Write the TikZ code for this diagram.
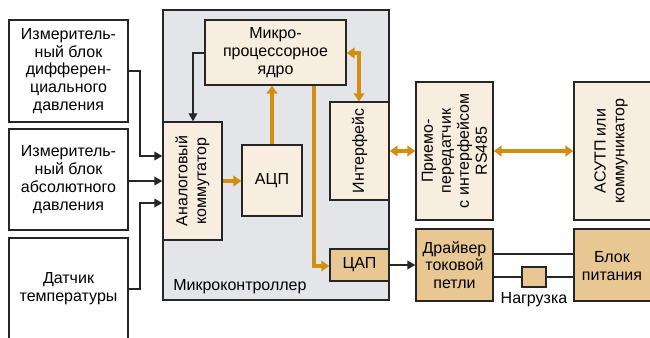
\documentclass[tikz,border=0pt]{standalone}
\usepackage{fontspec}
\setmainfont{Liberation Sans}
\usetikzlibrary{arrows.meta,fit}
\definecolor{mcgray}{HTML}{E3E5E8}
\definecolor{cream}{HTML}{F7EEDF}
\definecolor{tan}{HTML}{E9C793}
\definecolor{orng}{HTML}{D38E10}
\begin{document}
\begin{tikzpicture}[x=0.75pt,y=-0.75pt,
  font=\fontsize{12}{13.3}\selectfont,
  bx/.style={draw=black!85, line width=1pt, inner sep=0pt, align=center},
  wbox/.style={bx, fill=white},
  cbox/.style={bx, fill=cream},
  tbox/.style={bx, fill=tan},
  txt/.style={align=center, inner sep=0pt},
  rtxt/.style={align=center, inner sep=0pt, rotate=90},
  blk/.style={draw=black!85, line width=1pt, -{Triangle[width=6.5pt,length=6pt]}},
  org/.style={draw=orng, line width=2.3pt, -{Triangle[width=8pt,length=6pt]}},
  orgd/.style={draw=orng, line width=2.3pt, {Triangle[width=8pt,length=6pt]}-{Triangle[width=8pt,length=6pt]}},
  wire/.style={draw=black!85, line width=1pt}]
\useasboundingbox (0,0) rectangle (650,338);
\clip (0,0) rectangle (650,338);
% left boxes
\node[wbox, fit={(9,20) (128,122)}] (b1) {};
\node[txt] (t1) at (b1.center) {Измеритель-\\ный блок\\дифферен-\\циального\\давления};
\node[wbox, fit={(9,129) (128,230)}] (b2) {};
\node[txt] (t2) at (b2.center) {Измеритель-\\ный блок\\абсолютного\\давления};
\node[wbox, fit={(9,238) (128,341)}] (b3) {};
\node[txt] (t3) at (68.5,289) {Датчик\\температуры};
% microcontroller
\node[bx, fill=mcgray, fit={(163,10) (389,300)}] (mc) {};
\node[txt, anchor=west] (mcl) at (173,287) {Микроконтроллер};
\node[cbox, fit={(205,20) (346,85)}] (core) {};
\node[txt] (coret) at (core.center) {Микро-\\процессорное\\ядро};
\node[cbox, fit={(163,122) (222,240)}] (com) {};
\node[rtxt, font=\fontsize{12}{14}\selectfont] (comt) at (com.center) {Аналоговый\\коммутатор};
\node[cbox, fit={(242,145) (302,216)}] (adc) {};
\node[txt] (adct) at (adc.center) {АЦП};
\node[cbox, fit={(330,102) (389,200)}] (ifc) {};
\node[rtxt] (ifct) at (ifc.center) {Интерфейс};
\node[tbox, fit={(330,249) (389,281)}] (dac) {};
\node[txt] (dact) at (dac.center) {ЦАП};
% right side
\node[cbox, fit={(416,82) (493,220)}] (trx) {};
\node[rtxt, font=\fontsize{12}{13.5}\selectfont] (trxt) at (trx.center) {Приемо-\\передатчик\\с интерфейсом\\RS485};
\node[cbox, fit={(574,82) (660,220)}] (asu) {};
\node[rtxt, font=\fontsize{12}{14}\selectfont] (asut) at (611,151) {АСУТП или\\коммуникатор};
\node[tbox, fit={(416,229) (493,301)}] (drv) {};
\node[txt] (drvt) at (drv.center) {Драйвер\\токовой\\петли};
\node[tbox, fit={(574,229) (660,301)}] (psu) {};
\node[txt] (psut) at (612,266) {Блок\\питания};
\node[tbox, fit={(522,267) (546,287)}] (load) {};
\node[txt, anchor=north] (loadt) at (534,292) {Нагрузка};
% coordinates
\coordinate (c1a) at (140,71);
\coordinate (c1b) at (140,156);
\coordinate (c3a) at (140,289);
\coordinate (c3b) at (140,203);
\coordinate (ck) at (193,53);
\coordinate (cd) at (314,266);
\coordinate (ci) at (359,53);
% black arrows into commutator
\draw[blk] (b1.east |- c1a) -- (c1a) -- (c1b) -- (com.west |- c1b);
\draw[blk] (b2.east |- 0,181) -- (com.west |- 0,181);
\draw[blk] (b3.east |- c3a) -- (c3a) -- (c3b) -- (com.west |- c3b);
\draw[blk] (core.west |- ck) -- (ck) -- (ck |- com.north);
% orange
\draw[org] (com.east |- 0,181) -- (adc.west |- 0,181);
\draw[org] (adc.north -| 272,0) -- (core.south -| 272,0);
\draw[org] (core.south -| cd) -- (cd) -- (dac.west |- cd);
\draw[orgd] (core.east |- ci) -- (ci) -- (ci |- ifc.north);
\draw[orgd] (ifc.east |- 0,151) -- (trx.west |- 0,151);
\draw[orgd] (trx.east |- 0,151) -- (asu.west |- 0,151);
% DAC to driver
\draw[blk] (dac.east |- 0,265) -- (drv.west |- 0,265);
% loop wires
\draw[wire] (drv.east |- 0,254) -- (psu.west |- 0,254);
\draw[wire] (drv.east |- 0,277) -- (load.west |- 0,277);
\draw[wire] (load.east |- 0,277) -- (psu.west |- 0,277);
\end{tikzpicture}
\end{document}
